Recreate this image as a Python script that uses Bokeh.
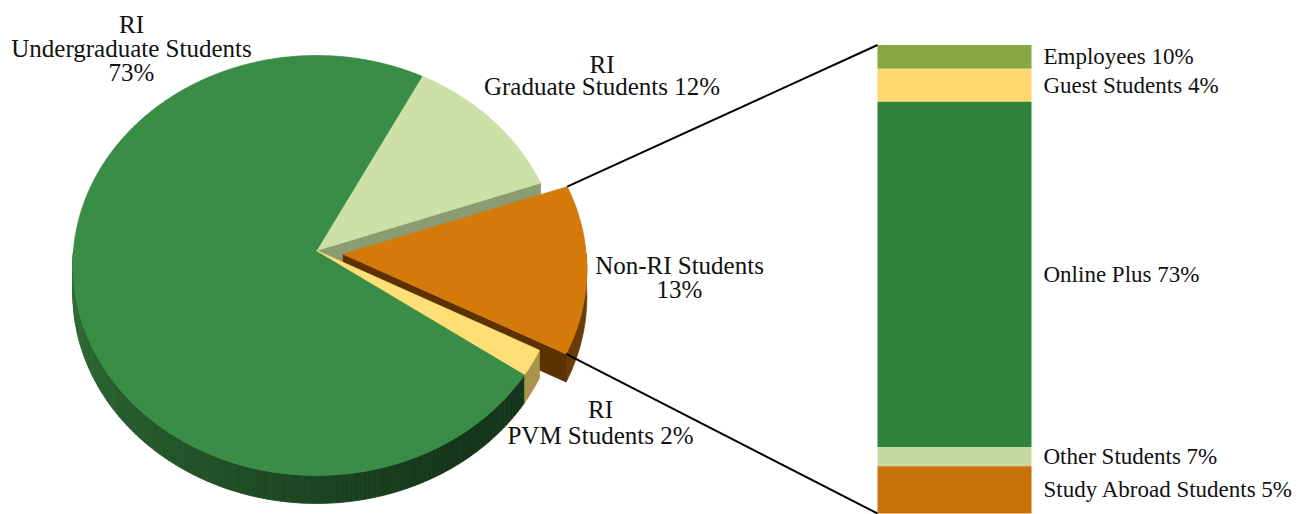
import numpy as np
from bokeh.plotting import figure
from bokeh.models import Range1d
from bokeh.core.properties import value
from bokeh.embed import file_html
from bokeh.resources import INLINE

# ---------------- data ----------------
pie_names = ["RI Graduate Students", "Non-RI Students", "RI PVM Students", "RI Undergraduate Students"]
pie_values = [12, 13, 2, 73]
pie_exploded = [False, True, False, False]
pie_label_lines = [
    ["RI", "Graduate Students {}%"],
    ["Non-RI Students", "{}%"],
    ["RI", "PVM Students {}%"],
    ["RI", "Undergraduate Students", "{}%"],
]

bar_names = ["Employees", "Guest Students", "Online Plus", "Other Students", "Study Abroad Students"]
bar_values = [10, 4, 73, 7, 5]

# ---------------- styles / layout ----------------
pie_top_colors = ["#CDE0A8", "#D47A0B", "#FFDE75", "#3A8D46"]
pie_side_colors = ["#8B9B72", "#5C3300", "#A8944A", None]  # undergrad rim uses gradient
pie_rim_grad = ("#2F7035", "#15361A")
orange_rim_color = "#6A3B03"
bar_colors_top_down = ["#87A644", "#FFD970", "#31833C", "#C5DAA1", "#C87308"]

TEXT_SHIFT = -8.0
pie_label_pos = [(601.5, 71.7, 22.5), (679, 273, 24), (600, 416.7, 26.5), (131, 31.7, 24)]

W, H = 1311, 514
CX, CY = 316.0, 250.0
RX, B, K = 243.0, 208.9, 0.0714
DEPTH = 28.0
START = 62.5
EXPLODE = 0.11

BAR_X0, BAR_X1 = 877.0, 1031.0
BAR_TOP_IMG, BAR_BOTTOM_IMG = 44.5, 513.0
BAR_LABEL_X = 1043.0

FONT = value("Liberation Serif")

# ---------------- figure ----------------
p = figure(width=W, height=H, x_range=Range1d(0, W), y_range=Range1d(H, 0),
           output_backend="svg", toolbar_location=None, min_border=0)
p.axis.visible = False
p.grid.visible = False
p.outline_line_color = None
p.background_fill_color = "white"
p.border_fill_color = "white"

total_bar = float(sum(bar_values))
px_per_pct = (BAR_BOTTOM_IMG - BAR_TOP_IMG) / total_bar
p.extra_y_ranges = {"bar": Range1d(start=(BAR_BOTTOM_IMG - H) / px_per_pct,
                                   end=(BAR_BOTTOM_IMG - 0) / px_per_pct)}


def proj(theta_deg, off=(0.0, 0.0), dz=0.0):
    t = np.radians(theta_deg)
    u, v = np.cos(t), np.sin(t)
    f = 1.0 / (1.0 + K * v)
    return CX + off[0] + RX * u * f, CY + off[1] - B * v * f + dz


def arc(t0, t1, step=0.5):
    n = max(2, int(abs(t1 - t0) / step) + 1)
    return np.linspace(t0, t1, n)


def mix(c1, c2, a):
    a = min(max(a, 0.0), 1.0)
    r1, g1, b1 = int(c1[1:3], 16), int(c1[3:5], 16), int(c1[5:7], 16)
    r2, g2, b2 = int(c2[1:3], 16), int(c2[3:5], 16), int(c2[5:7], 16)
    return "#%02x%02x%02x" % (round(r1 + (r2 - r1) * a), round(g1 + (g2 - g1) * a), round(b1 + (b2 - b1) * a))


tot = float(sum(pie_values))
bounds = START - 360.0 * np.concatenate([[0.0], np.cumsum(pie_values)]) / tot
offsets = []
for i in range(len(pie_values)):
    if pie_exploded[i]:
        mid = np.radians((bounds[i] + bounds[i + 1]) / 2)
        offsets.append((RX * EXPLODE * np.cos(mid), -B * EXPLODE * np.sin(mid) + 2.0))
    else:
        offsets.append((0.0, 0.0))


def top_face(i):
    t = arc(bounds[i], bounds[i + 1])
    ax = CX + offsets[i][0]
    ay = CY + offsets[i][1]
    xs, ys = proj(t, offsets[i])
    return [ax] + list(xs), [ay] + list(ys)


def radial_face(i, theta):
    ox, oy = offsets[i]
    ex, ey = proj(theta, offsets[i])
    return ([CX + ox, ex, ex, CX + ox], [CY + oy, ey, ey + DEPTH, CY + oy + DEPTH])


def rim_pieces(i, color=None, grad=None):
    a = max(bounds[i + 1], -180.0)
    b = min(bounds[i], 0.0)
    out = []
    if a >= b:
        return out
    if grad is None:
        t = arc(b, a)
        xs, ys = proj(t, offsets[i])
        xb, yb = proj(t[::-1], offsets[i], DEPTH)
        out.append((list(xs) + list(xb), list(ys) + list(yb), color))
    else:
        edges = arc(a, b, 1.0)
        for k in range(len(edges) - 1):
            t = np.array([edges[k], edges[k + 1]])
            xs, ys = proj(t, offsets[i])
            xb, yb = proj(t[::-1], offsets[i], DEPTH)
            frac = (edges[k] + 180.0) / 120.0
            out.append((list(xs) + list(xb), list(ys) + list(yb), mix(grad[0], grad[1], frac)))
    return out


GR, NR, PV, UG = 0, 1, 2, 3
polys = []
# 1. graduate radial face exposed by exploded slice, graduate top
polys.append(radial_face(GR, bounds[GR + 1]) + (pie_side_colors[GR],))
polys.append(top_face(GR) + (pie_top_colors[GR],))
# 2. exploded slice sides
polys += rim_pieces(NR, orange_rim_color)
polys.append(radial_face(NR, bounds[NR + 1]) + (pie_side_colors[NR],))
# 3. front rims of undergrad and PVM
polys += rim_pieces(UG, grad=pie_rim_grad)
polys += rim_pieces(PV, pie_side_colors[PV])
# 4. top faces
polys.append(top_face(UG) + (pie_top_colors[UG],))
polys.append(top_face(PV) + (pie_top_colors[PV],))
polys.append(top_face(NR) + (pie_top_colors[NR],))

p.patches(xs=[q[0] for q in polys], ys=[q[1] for q in polys],
          fill_color=[q[2] for q in polys], line_color=[q[2] for q in polys], line_width=0.8)

# ---------------- bar of pie ----------------
heights_top_down = bar_values[::-1]   # source chart lists its labels in reverse of the segments
tops, bottoms = [], []
cur = total_bar
for h in heights_top_down:
    tops.append(cur)
    bottoms.append(cur - h)
    cur -= h
p.vbar(x=[(BAR_X0 + BAR_X1) / 2] * len(tops), width=BAR_X1 - BAR_X0, top=tops, bottom=bottoms,
       fill_color=bar_colors_top_down, line_color=None, y_range_name="bar")

centers = [(t + b) / 2 for t, b in zip(tops, bottoms)]
p.text(x=[BAR_LABEL_X] * len(bar_names), y=centers,
       text=[f"{n} {v}%" for n, v in zip(bar_names, bar_values)],
       text_font=FONT, text_font_size="23px", text_align="left", text_baseline="alphabetic",
       y_offset=8 + TEXT_SHIFT, text_color="#111111", y_range_name="bar")

# ---------------- leader lines ----------------
tx, ty = proj(bounds[NR], offsets[NR])
bx, by = proj(bounds[NR + 1], offsets[NR])
p.segment(x0=[tx, bx], y0=[ty, by], x1=[BAR_X0, BAR_X0], y1=[BAR_TOP_IMG, BAR_BOTTOM_IMG],
          line_color="black", line_width=2)

# ---------------- pie labels ----------------
lx, ly, lt = [], [], []
for i, lines in enumerate(pie_label_lines):
    x0, y0, sp = pie_label_pos[i]
    for j, line in enumerate(lines):
        lx.append(x0)
        ly.append(y0 + j * sp + TEXT_SHIFT)
        lt.append(line.format(pie_values[i]))
p.text(x=lx, y=ly, text=lt, text_font=FONT, text_font_size="25px", text_align="center",
       text_baseline="alphabetic", text_color="#111111")

open("out.html", "w").write(file_html(p, INLINE))
